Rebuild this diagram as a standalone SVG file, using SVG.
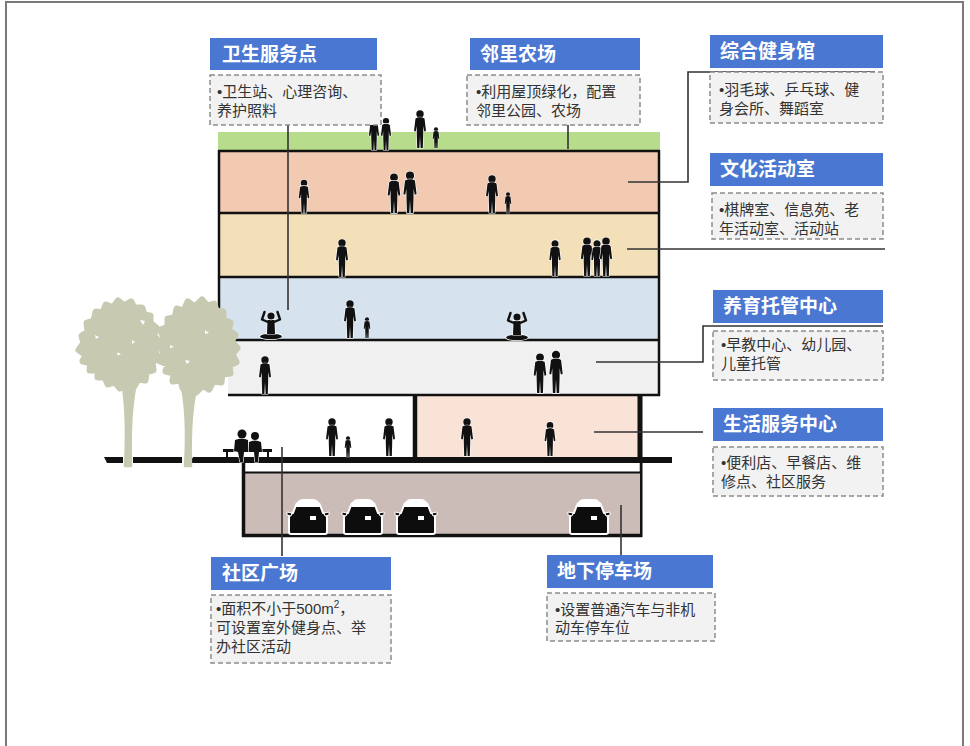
<svg xmlns="http://www.w3.org/2000/svg" xmlns:xlink="http://www.w3.org/1999/xlink" width="970" height="746" viewBox="0 0 970 746">
  <style>
    .hdr { fill: #4a77d1; }
    .hdr-t { fill: #ffffff; font-family: "Liberation Sans", "Noto Sans CJK SC", sans-serif; font-size: 19px; font-weight: bold; }
    .desc { fill: #f2f2f2; stroke: #8c8c8c; stroke-width: 1.5; stroke-dasharray: 5 3; }
    .desc-t { fill: #333333; font-family: "Liberation Sans", "Noto Sans CJK SC", sans-serif; font-size: 15px; }
    .conn { fill: none; stroke: #333333; stroke-width: 1.6; }
    .slab { stroke: #111111; stroke-width: 2.5; fill: none; }
    .fig { fill: #111111; stroke: #ffffff; stroke-width: 1.2; paint-order: stroke; }
    .tree { fill: #c7cab1; stroke: #c7cab1; stroke-width: 2.5; stroke-linejoin: round; }
    .crown { fill: #c7cab1; stroke: #c7cab1; stroke-width: 7; stroke-linejoin: round; }
  </style>
  <defs>
    <!-- standing adult, feet at origin, ~38px tall -->
    <g id="adult">
      <circle cx="0" cy="-34" r="3.7" class="fig"/>
      <path class="fig" d="M-4.5,-29.5 C-2,-31.2 2,-31.2 4.5,-29.5 L6,-17 L4.3,-16.5 L3.3,-22 L3.2,-13 L2.8,0 L0.6,0 L0,-12 L-0.6,0 L-2.8,0 L-3.2,-13 L-3.3,-22 L-4.3,-16.5 L-6,-17 Z"/>
    </g>
    <!-- seated figure with raised arms -->
    <g id="meditator">
      <ellipse cx="0" cy="-2.5" rx="11" ry="2.8" class="fig"/>
      <path class="fig" d="M-3.5,-19 L3.5,-19 L4,-5 L-4,-5 Z"/>
      <circle cx="0" cy="-23" r="3.6" class="fig"/>
      <path d="M-3,-17 L-9,-19.5 L-6.5,-27 M3,-17 L9,-19.5 L6.5,-27" fill="none" stroke="#111111" stroke-width="2.4" stroke-linecap="round" stroke-linejoin="round"/>
    </g>
    <!-- car seen from behind, bottom centre at origin -->
    <g id="car">
      <path d="M-19,-2 L-19,-16 Q-19,-20 -15,-21 L-12,-29 Q-11,-32 -6,-32 L6,-32 Q11,-32 12,-29 L15,-21 Q19,-20 19,-16 L19,-2 Q19,0 17,0 L-17,0 Q-19,0 -19,-2 Z" fill="#0d0d0d" stroke="#ffffff" stroke-width="2"/>
      <path d="M-16,-21 L-21,-22 L-21,-19 L-17,-18 Z M16,-21 L21,-22 L21,-19 L17,-18 Z" fill="#0d0d0d" stroke="#ffffff" stroke-width="1"/>
      <path d="M-12.5,-27 Q-11,-35 -5,-35 L5,-35 Q11,-35 12.5,-27 Z" fill="#ffffff"/>
      <rect x="2" y="-18" width="6" height="4" fill="#ffffff"/>
    </g>
  </defs>

  <!-- outer frame -->
  <rect x="6" y="2" width="957" height="760" fill="#ffffff" stroke="#7a7a7a" stroke-width="2"/>

  <!-- building section -->
  <g id="building">
    <rect x="218" y="132" width="442" height="18" fill="#b6dc8c"/>
    <rect x="218" y="151" width="442" height="62" fill="#f2c9b1"/>
    <rect x="218" y="213" width="442" height="64" fill="#f3e0b9"/>
    <rect x="218" y="277" width="442" height="63" fill="#d6e2ee"/>
    <rect x="228" y="340" width="432" height="55" fill="#f0f0f0"/>
    <rect x="416" y="395" width="225" height="62" fill="#f9e3d6"/>
    <path class="slab" d="M218,151 H660 M218,213 H660 M218,277 H660 M235,340 H660 M228,395 H660"/>
    <path class="slab" d="M219,150 V330 M659,150 V396"/>
    <path d="M415,395 V458" stroke="#111111" stroke-width="4.5"/>
    <path d="M640,395 V537" stroke="#111111" stroke-width="5"/>
    <!-- basement parking -->
    <rect x="243" y="463" width="397" height="72" fill="#cbbcb7"/>
    <rect x="245" y="463" width="394" height="9" fill="#ffffff"/>
    <path d="M245,472.5 H640" stroke="#111111" stroke-width="2"/>
    <path d="M243.5,462 V537 M242,535.5 H642" stroke="#111111" stroke-width="3.5"/>
    <!-- ground slab -->
    <path d="M104,457 L123,457 L123,463 L107,463 Z M133,457 L182,457 L182,463 L133,463 Z M193,457 L672,457 L672,463 L190,463 Z" fill="#111111"/>
  </g>

  <!-- trees -->
  <g id="trees">
    <path class="crown" d="M79,350 L84,343 L82,336 L88,332 L87,323 L94,321 L96,312 L103,313 L106,305 L113,308 L118,301 L124,306 L131,302 L134,308 L142,308 L144,315 L150,316 L150,323 L157,329 L153,335 L159,342 L154,350 L158,358 L152,362 L153,370 L146,372 L145,380 L138,379 L134,386 L127,383 L120,388 L115,382 L108,384 L105,377 L98,377 L98,370 L90,370 L91,363 L83,361 L86,355 Z"/>
    <path class="crown" d="M159,345 L164,338 L161,330 L168,327 L168,319 L175,318 L177,309 L184,311 L188,302 L195,307 L202,300 L207,306 L214,304 L216,311 L223,312 L223,320 L230,323 L228,330 L235,335 L231,341 L237,348 L232,354 L236,362 L229,365 L230,373 L222,374 L221,382 L213,381 L209,389 L203,385 L196,392 L190,386 L183,388 L181,380 L173,381 L174,373 L166,371 L168,364 L160,361 L164,353 Z"/>
    <path class="tree" d="M121,376 C126,400 127,430 125,466 L131,466 C130,430 131,402 138,374 Z"/>
    <path class="tree" d="M181,382 C186,405 187,435 185,466 L191,466 C190,435 191,405 198,382 Z"/>
    <path d="M95,335 l4,2 l-3,2 Z M140,320 l5,1 l-2,4 Z M170,345 l4,2 l-4,1 Z M205,330 l4,3 l-4,1 Z M118,352 l3,3 l-4,0 Z M185,360 l5,1 l-3,3 Z M132,340 l3,2 l-3,2 Z" fill="#ffffff"/>
  </g>

  <!-- people and cars -->
  <g id="figures">
    <use xlink:href="#adult" transform="translate(374,150) scale(0.85)"/>
    <use xlink:href="#adult" transform="translate(386,150) scale(0.85)"/>
    <use xlink:href="#adult" transform="translate(420,148)"/>
    <use xlink:href="#adult" transform="translate(436,148) scale(0.55)"/>

    <use xlink:href="#adult" transform="translate(304,213) scale(0.88)"/>
    <use xlink:href="#adult" transform="translate(394,213) scale(1.05)"/>
    <use xlink:href="#adult" transform="translate(410,213) scale(1.1)"/>
    <use xlink:href="#adult" transform="translate(492,213)"/>
    <use xlink:href="#adult" transform="translate(508,213) scale(0.55)"/>

    <use xlink:href="#adult" transform="translate(342,277)"/>
    <use xlink:href="#adult" transform="translate(555,276) scale(0.95)"/>
    <use xlink:href="#adult" transform="translate(587,276) scale(1.02)"/>
    <use xlink:href="#adult" transform="translate(597,276) scale(0.95)"/>
    <use xlink:href="#adult" transform="translate(606,276) scale(1.02)"/>

    <use xlink:href="#meditator" transform="translate(271,339)"/>
    <use xlink:href="#adult" transform="translate(350,338)"/>
    <use xlink:href="#adult" transform="translate(367,338) scale(0.55)"/>
    <use xlink:href="#meditator" transform="translate(517,340)"/>

    <use xlink:href="#adult" transform="translate(265,394)"/>
    <use xlink:href="#adult" transform="translate(540,393) scale(1.05)"/>
    <use xlink:href="#adult" transform="translate(556,393) scale(1.12)"/>

    <!-- bench with seated couple -->
    <rect x="223" y="449" width="49" height="3" fill="#111111"/>
    <path d="M227,452 V459 M268,452 V459" stroke="#111111" stroke-width="2"/>
    <circle cx="242" cy="434" r="4.5" class="fig"/>
    <circle cx="255" cy="436" r="4" class="fig"/>
    <path class="fig" d="M235,440 Q242,437 248,440 L249,452 L244,452 L243,462 L240,462 L238,452 L234,451 Z"/>
    <path class="fig" d="M249,442 Q255,439 261,442 L262,452 L259,452 L258,462 L255,462 L254,452 L249,452 Z"/>

    <use xlink:href="#adult" transform="translate(332,456)"/>
    <use xlink:href="#adult" transform="translate(348,457) scale(0.55)"/>
    <use xlink:href="#adult" transform="translate(389,456)"/>
    <use xlink:href="#adult" transform="translate(467,456)"/>
    <use xlink:href="#adult" transform="translate(550,456) scale(0.9)"/>

    <use xlink:href="#car" transform="translate(308,534)"/>
    <use xlink:href="#car" transform="translate(363,534)"/>
    <use xlink:href="#car" transform="translate(416,534)"/>
    <use xlink:href="#car" transform="translate(589,534)"/>
  </g>

  <!-- leader lines -->
  <g id="connectors">
    <path class="conn" d="M288,125 V310"/>
    <path class="conn" d="M568,125 V149"/>
    <path class="conn" d="M628,182 H688 V72 H875"/>
    <path class="conn" d="M627,249 H885"/>
    <path class="conn" d="M596,362 H703 V326 H883"/>
    <path class="conn" d="M594,432 H703"/>
    <path class="conn" d="M282,447 V556"/>
    <path class="conn" d="M621,505 V555"/>
  </g>

  <g id="node-health">
    <rect class="hdr" x="210" y="38" width="167" height="32"/>
    <text class="hdr-t" x="222" y="61">卫生服务点</text>
    <rect class="desc" x="210" y="75" width="171" height="50"/>
    <text class="desc-t" x="217" y="97">•卫生站、心理咨询、</text>
    <text class="desc-t" x="217" y="116">养护照料</text>
  </g>

  <g id="node-farm">
    <rect class="hdr" x="470" y="38" width="170" height="32"/>
    <text class="hdr-t" x="480" y="61">邻里农场</text>
    <rect class="desc" x="467" y="75" width="173" height="50"/>
    <text class="desc-t" x="476" y="97">•利用屋顶绿化，配置</text>
    <text class="desc-t" x="476" y="116">邻里公园、农场</text>
  </g>

  <g id="node-gym">
    <rect class="hdr" x="710" y="35" width="173" height="33"/>
    <text class="hdr-t" x="720" y="58">综合健身馆</text>
    <rect class="desc" x="710" y="72" width="173" height="51"/>
    <text class="desc-t" x="719" y="95">•羽毛球、乒乓球、健</text>
    <text class="desc-t" x="719" y="114">身会所、舞蹈室</text>
  </g>

  <g id="node-culture">
    <rect class="hdr" x="710" y="153" width="173" height="33"/>
    <text class="hdr-t" x="720" y="176">文化活动室</text>
    <rect class="desc" x="712" y="193" width="171" height="46"/>
    <text class="desc-t" x="719" y="215">•棋牌室、信息苑、老</text>
    <text class="desc-t" x="719" y="234">年活动室、活动站</text>
  </g>

  <g id="node-childcare">
    <rect class="hdr" x="713" y="290" width="170" height="33"/>
    <text class="hdr-t" x="723" y="313">养育托管中心</text>
    <rect class="desc" x="713" y="331" width="170" height="49"/>
    <text class="desc-t" x="721" y="350">•早教中心、幼儿园、</text>
    <text class="desc-t" x="721" y="369">儿童托管</text>
  </g>

  <g id="node-services">
    <rect class="hdr" x="713" y="408" width="170" height="33"/>
    <text class="hdr-t" x="723" y="431">生活服务中心</text>
    <rect class="desc" x="713" y="447" width="170" height="49"/>
    <text class="desc-t" x="721" y="468">•便利店、早餐店、维</text>
    <text class="desc-t" x="721" y="487">修点、社区服务</text>
  </g>

  <g id="node-plaza">
    <rect class="hdr" x="211" y="557" width="180" height="33"/>
    <text class="hdr-t" x="222" y="580">社区广场</text>
    <rect class="desc" x="211" y="595" width="180" height="68"/>
    <text class="desc-t" x="216" y="614">•面积不小于500m<tspan font-size="10" dy="-6">2</tspan><tspan dy="6">，</tspan></text>
    <text class="desc-t" x="216" y="633">可设置室外健身点、举</text>
    <text class="desc-t" x="216" y="652">办社区活动</text>
  </g>

  <g id="node-parking">
    <rect class="hdr" x="547" y="555" width="166" height="33"/>
    <text class="hdr-t" x="557" y="578">地下停车场</text>
    <rect class="desc" x="547" y="593" width="168" height="48"/>
    <text class="desc-t" x="555" y="615">•设置普通汽车与非机</text>
    <text class="desc-t" x="555" y="633">动车停车位</text>
  </g>
</svg>
